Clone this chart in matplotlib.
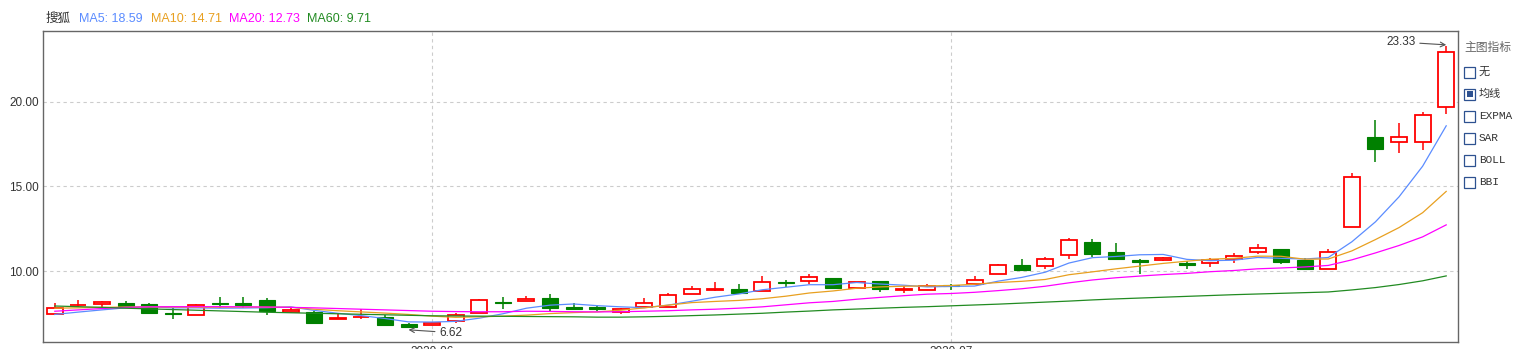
import matplotlib
matplotlib.use('Agg')
import matplotlib.pyplot as plt
from matplotlib.patches import Rectangle
import numpy as np

plt.rcParams['font.family'] = ['Liberation Sans', 'Noto Sans CJK SC', 'DejaVu Sans']

# daily OHLC, 60 sessions
opens = [7.43, 7.96, 8.07, 8.11, 8.05, 7.48, 7.37, 8.11, 8.11, 8.28,
         7.59, 7.57, 7.14, 7.26, 7.30, 6.88, 6.79, 7.02, 7.51, 8.15,
         8.22, 8.40, 7.87, 7.87, 7.56, 7.85, 7.85, 8.62, 8.90, 8.93,
         8.80, 9.37, 9.39, 9.59, 8.99, 9.41, 8.89, 8.86, 9.14, 9.25,
         9.80, 10.36, 10.28, 10.93, 11.72, 11.12, 10.65, 10.65, 10.47, 10.45,
         10.69, 11.10, 11.28, 10.65, 10.10, 12.58, 17.93, 17.65, 17.61, 19.69]
closes = [7.79, 8.00, 8.17, 7.95, 7.54, 7.45, 7.97, 8.07, 8.01, 7.65,
          7.69, 6.94, 7.22, 7.30, 6.79, 6.68, 6.92, 7.41, 8.26, 8.08,
          8.34, 7.83, 7.75, 7.76, 7.73, 8.09, 8.56, 8.92, 8.93, 8.72,
          9.33, 9.32, 9.63, 8.97, 9.33, 8.92, 8.95, 9.13, 9.12, 9.45,
          10.34, 10.06, 10.69, 11.82, 11.02, 10.73, 10.54, 10.77, 10.38, 10.63,
          10.87, 11.34, 10.55, 10.14, 11.10, 15.54, 17.24, 17.91, 19.21, 22.94]
highs = [8.09, 8.28, 8.24, 8.24, 8.11, 7.79, 8.05, 8.46, 8.44, 8.40,
         7.89, 7.65, 7.50, 7.73, 7.40, 6.94, 7.00, 7.50, 8.33, 8.48,
         8.52, 8.66, 8.09, 7.97, 7.83, 8.40, 8.70, 9.11, 9.35, 9.23,
         9.70, 9.47, 9.82, 9.59, 9.33, 9.41, 9.11, 9.23, 9.21, 9.70,
         10.41, 10.71, 10.81, 11.93, 11.89, 11.66, 10.69, 10.85, 10.61, 10.75,
         11.05, 11.60, 11.28, 10.77, 11.30, 15.80, 18.93, 18.74, 19.39, 23.33]
lows = [7.37, 7.89, 7.85, 7.89, 7.48, 7.14, 7.37, 7.81, 7.81, 7.41,
        7.50, 6.94, 7.14, 7.16, 6.79, 6.62, 6.79, 6.94, 7.51, 7.75,
        8.20, 7.65, 7.67, 7.65, 7.48, 7.85, 7.85, 8.62, 8.82, 8.62,
        8.80, 9.05, 9.25, 8.97, 8.99, 8.78, 8.72, 8.86, 8.86, 9.25,
        9.80, 10.00, 10.14, 10.69, 10.83, 10.67, 9.80, 10.59, 10.10, 10.26,
        10.45, 10.98, 10.43, 10.06, 10.10, 12.58, 16.47, 17.00, 17.18, 19.27]

ma5 = [7.43, 7.57, 7.70, 7.82, 7.89, 7.82, 7.82, 7.80, 7.81, 7.83,
       7.88, 7.67, 7.50, 7.36, 7.19, 6.99, 6.98, 7.02, 7.21, 7.47,
       7.80, 7.98, 8.05, 7.95, 7.88, 7.83, 7.98, 8.21, 8.45, 8.64,
       8.89, 9.04, 9.19, 9.19, 9.32, 9.23, 9.16, 9.06, 9.09, 9.11,
       9.40, 9.62, 9.93, 10.47, 10.79, 10.86, 10.96, 10.98, 10.69, 10.61,
       10.64, 10.80, 10.75, 10.71, 10.80, 11.73, 12.91, 14.39, 16.20, 18.59]
ma10 = [7.80, 7.82, 7.85, 7.87, 7.88, 7.87, 7.86, 7.86, 7.87, 7.86,
        7.85, 7.74, 7.65, 7.58, 7.51, 7.43, 7.33, 7.26, 7.29, 7.33,
        7.39, 7.48, 7.54, 7.58, 7.68, 7.82, 7.98, 8.13, 8.20, 8.26,
        8.36, 8.51, 8.70, 8.82, 8.98, 9.06, 9.10, 9.12, 9.14, 9.22,
        9.32, 9.39, 9.50, 9.78, 9.95, 10.13, 10.29, 10.45, 10.58, 10.70,
        10.75, 10.88, 10.87, 10.70, 10.71, 11.19, 11.86, 12.57, 13.45, 14.71]
ma20 = [7.62, 7.70, 7.78, 7.85, 7.88, 7.89, 7.89, 7.89, 7.88, 7.87,
        7.85, 7.82, 7.78, 7.74, 7.70, 7.66, 7.62, 7.60, 7.59, 7.59,
        7.62, 7.61, 7.59, 7.58, 7.59, 7.62, 7.65, 7.70, 7.74, 7.80,
        7.88, 8.00, 8.12, 8.20, 8.33, 8.44, 8.54, 8.63, 8.67, 8.74,
        8.84, 8.95, 9.10, 9.30, 9.47, 9.60, 9.70, 9.79, 9.86, 9.96,
        10.03, 10.13, 10.18, 10.24, 10.33, 10.66, 11.07, 11.51, 12.02, 12.73]
ma60 = [7.93, 7.89, 7.85, 7.80, 7.76, 7.72, 7.68, 7.64, 7.60, 7.56,
        7.53, 7.50, 7.47, 7.44, 7.41, 7.38, 7.35, 7.34, 7.33, 7.32,
        7.31, 7.30, 7.29, 7.27, 7.27, 7.29, 7.32, 7.36, 7.40, 7.45,
        7.50, 7.57, 7.63, 7.70, 7.75, 7.80, 7.85, 7.89, 7.94, 7.99,
        8.04, 8.10, 8.16, 8.22, 8.29, 8.35, 8.40, 8.45, 8.50, 8.55,
        8.60, 8.64, 8.68, 8.72, 8.76, 8.88, 9.02, 9.20, 9.42, 9.71]

month_ticks = [16, 38]
month_labels = ['2020-06', '2020-07']
y_ticks = [10, 15, 20]

indicators = ['无', '均线', 'EXPMA', 'SAR', 'BOLL', 'BBI']
checked = '均线'

RED = '#ff0000'
GREEN = '#008000'
ma_colors = {'MA5': '#5b8cff', 'MA10': '#e8a020', 'MA20': '#ff00ff', 'MA60': '#228b22'}

W, H = 1516, 349
fig = plt.figure(figsize=(W / 100, H / 100), dpi=100)
ax = fig.add_axes([43 / W, 7 / H, 1415 / W, 311 / H])

x = np.arange(len(opens))
o = np.array(opens)
c = np.array(closes)
up = c >= o
bottoms = np.minimum(o, c)
heights = np.maximum(np.abs(c - o), 0.04)

# wicks
for i in x:
    col = RED if up[i] else GREEN
    ax.vlines(i, lows[i], highs[i], color=col, linewidth=1.1, zorder=2)

# bodies
ax.bar(x[up], heights[up], bottom=bottoms[up], width=0.68,
       facecolor='white', edgecolor=RED, linewidth=1.3, zorder=3)
ax.bar(x[~up], heights[~up], bottom=bottoms[~up], width=0.68,
       facecolor=GREEN, edgecolor=GREEN, linewidth=0.8, zorder=3)

for name, vals in [('MA5', ma5), ('MA10', ma10), ('MA20', ma20), ('MA60', ma60)]:
    ax.plot(x, vals, color=ma_colors[name], linewidth=0.9, zorder=4)

ax.set_xlim(-0.5, len(opens) - 0.5)
ax.set_ylim(5.8, 24.2)
ax.set_yticks(y_ticks)
ax.set_yticklabels([f'{v:.2f}' for v in y_ticks])
ax.set_xticks(month_ticks)
ax.set_xticklabels(month_labels)
ax.tick_params(length=0, labelsize=8.5, colors='#333333', pad=3)
ax.grid(True, color='#cccccc', linestyle=(0, (3, 3)), linewidth=0.8)
ax.set_axisbelow(True)
for s in ax.spines.values():
    s.set_color('#666666')
    s.set_linewidth(1.0)

# max / min annotations
imax = int(np.argmax(highs))
imin = int(np.argmin(lows))
ax.annotate(f'{highs[imax]:.2f}', xy=(imax, highs[imax] + 0.05), xytext=(-22, 2),
            textcoords='offset points', ha='right', va='center', fontsize=8.5, color='#333333',
            arrowprops=dict(arrowstyle='->', color='#555555', lw=0.8, shrinkA=1, shrinkB=0))
ax.annotate(f'{lows[imin]:.2f}', xy=(imin, lows[imin] - 0.1), xytext=(22, -2),
            textcoords='offset points', ha='left', va='center', fontsize=8.5, color='#333333',
            arrowprops=dict(arrowstyle='->', color='#555555', lw=0.8, shrinkA=1, shrinkB=0))

# header legend
fig.text(45 / W, 1 - 19 / H, '搜狐', fontsize=9, color='#333333', va='center')
hx = [79, 151, 229, 307]
for xpos, (name, vals) in zip(hx, [('MA5', ma5), ('MA10', ma10), ('MA20', ma20), ('MA60', ma60)]):
    fig.text(xpos / W, 1 - 19 / H, f'{name}: {vals[-1]:.2f}', fontsize=9,
             color=ma_colors[name], va='center')

# right indicator panel
fig.text(1464 / W, 1 - 48 / H, '主图指标', fontsize=8.5, color='#666666', va='center')
for k, name in enumerate(indicators):
    yc = 72 + 22 * k
    fig.patches.append(Rectangle((1464 / W, 1 - (yc + 6) / H), 11 / W, 11 / H,
                                 transform=fig.transFigure, facecolor='white',
                                 edgecolor='#2d5190', linewidth=0.9))
    if name == checked:
        fig.patches.append(Rectangle((1467 / W, 1 - (yc + 3) / H), 6 / W, 6 / H,
                                     transform=fig.transFigure, facecolor='#2d5190',
                                     edgecolor='none'))
    fam = ['Liberation Mono', 'Noto Sans CJK SC'] if name.isascii() else ['Noto Sans CJK SC']
    fig.text(1479 / W, 1 - yc / H, name, fontsize=8, color='#333333', va='center',
             family=fam)

fig.savefig('out.png', dpi=100)
